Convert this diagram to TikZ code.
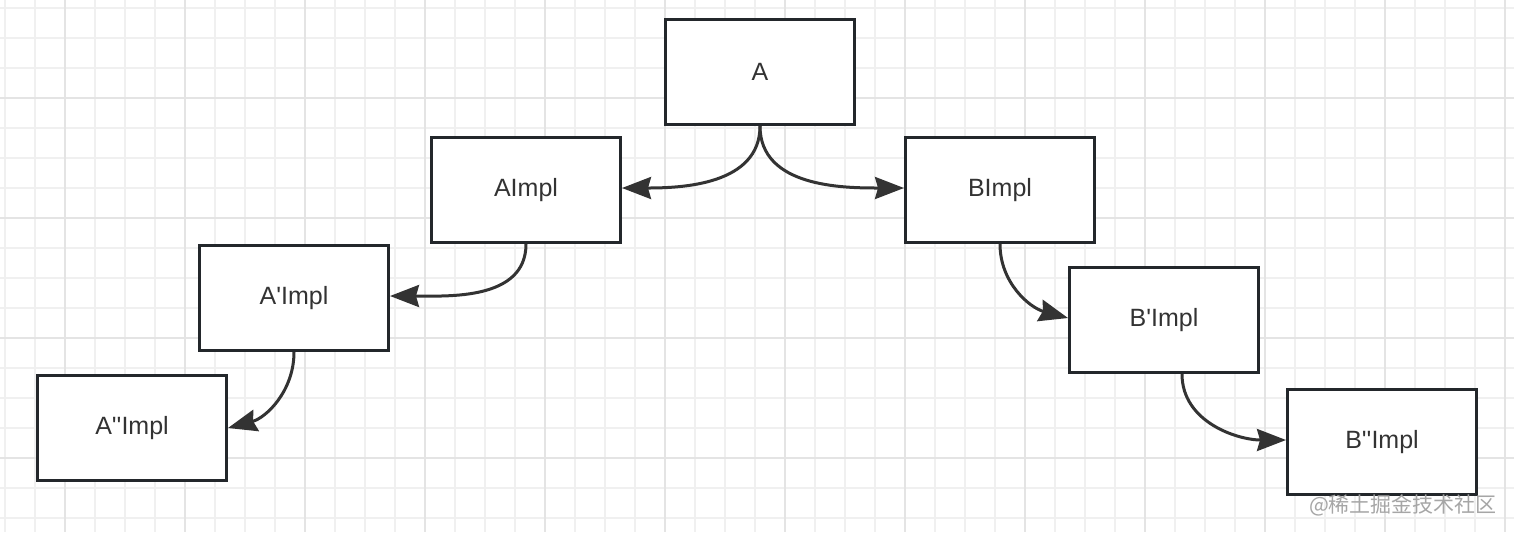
\documentclass[tikz,border=0pt]{standalone}
\usepackage{fontspec}
\setmainfont{Liberation Sans}[Ligatures=TeXOff]
\newfontfamily\cjk{Noto Sans CJK SC}
\usetikzlibrary{arrows.meta}
\definecolor{boxline}{HTML}{23272B}
\definecolor{linkline}{HTML}{333333}
\definecolor{minorgrid}{HTML}{F0F0F0}
\definecolor{majorgrid}{HTML}{E4E4E4}
\begin{document}
\begin{tikzpicture}[x=0.5pt,y=-0.5pt,
    implbox/.style={draw=boxline,fill=white,line width=1.6pt,minimum width=94.4pt,minimum height=52.4pt,text=linkline,font=\fontsize{12.5pt}{14pt}\selectfont},
    link/.style={draw=linkline,line width=1.5pt,-{Stealth[length=14.5pt,width=11pt,inset=1.5pt]}}]
      \useasboundingbox[fill=white] (0,0) rectangle (1514,532);
      % grid
      \foreach \x in {5,35,...,1514} \draw[minorgrid,line width=1pt] (\x,0) -- (\x,532);
      \foreach \y in {8,38,...,532} \draw[minorgrid,line width=1pt] (0,\y) -- (1514,\y);
      \foreach \x in {65,185,...,1514} \draw[majorgrid,line width=1pt] (\x,0) -- (\x,532);
      \foreach \y in {98,218,...,532} \draw[majorgrid,line width=1pt] (0,\y) -- (1514,\y);
      % boxes
      \node[implbox] (A) at (760,72) {A};
      \node[implbox] (AImpl) at (526,190) {AImpl};
      \node[implbox] (BImpl) at (1000,190) {BImpl};
      \node[implbox] (A1Impl) at (294,298) {A'Impl};
      \node[implbox] (B1Impl) at (1164,320) {B'Impl};
      \node[implbox] (A2Impl) at (132,428) {A''Impl};
      \node[implbox] (B2Impl) at (1382,442) {B''Impl};
      % links
      \draw[link] (A.south) to[out=-90,in=0] ([yshift=1pt]AImpl.east);
      \draw[link] (A.south) to[out=-90,in=180] ([yshift=1pt]BImpl.west);
      \draw[link] (AImpl.south) to[out=-90,in=0] ([yshift=1pt]A1Impl.east);
      \draw[link] (A1Impl.south) to[out=-90,in=15] (A2Impl.east);
      \draw[link] (BImpl.south) to[out=-90,in=165] ([yshift=1pt]B1Impl.west);
      \draw[link] ([xshift=9pt]B1Impl.south) to[out=-90,in=180] ([yshift=1pt]B2Impl.west);
      \node[text=black!35,font=\cjk\fontsize{10.5pt}{12pt}\selectfont] (mark) at (1403,505) {@稀土掘金技术社区};
    \end{tikzpicture}
\end{document}
